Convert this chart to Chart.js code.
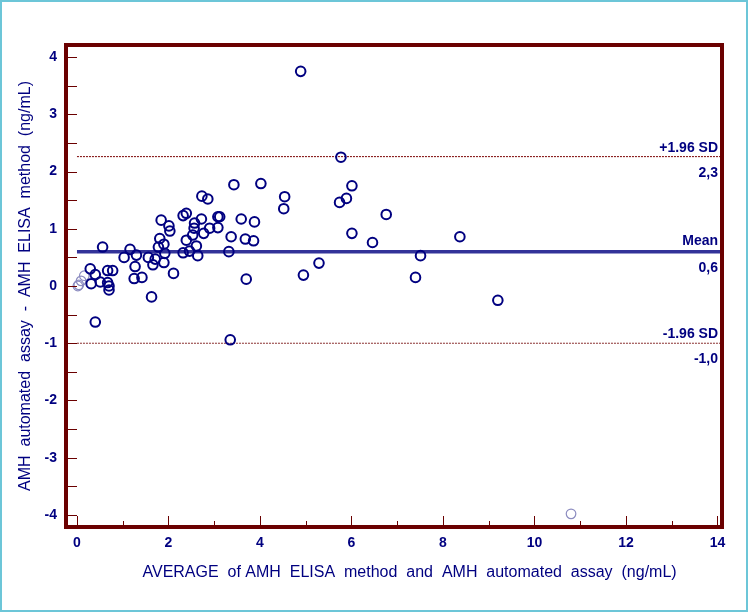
<!DOCTYPE html>
<html>
<head>
<meta charset="utf-8">
<script src="https://cdn.jsdelivr.net/npm/chart.js@4.4.1/dist/chart.umd.min.js"></script>
<style>
html, body { margin: 0; padding: 0; background: #fff; }
</style>
</head>
<body>
<canvas id="myChart" width="748" height="612"></canvas>
<script>
// averages (x) and differences (y)
const avgValues = [
  0.56, 0.29, 0.40, 0.31, 0.51, 0.67, 0.78, 0.67, 0.70, 0.70, 0.40,
  1.16, 1.03, 1.30, 1.27, 1.25, 1.42, 1.56, 1.66, 1.71, 1.63, 1.81, 1.78,
  1.90, 1.90, 1.92, 1.84, 2.01, 2.03, 2.11, 2.32, 2.39, 2.72, 2.57, 2.56,
  2.90, 2.77, 2.53, 2.39, 2.32, 2.46, 2.61, 2.64, 2.73, 2.86, 3.08, 3.12,
  3.08, 3.32, 3.37, 3.43, 3.59, 3.68, 3.86, 3.88, 3.70, 3.35, 4.02, 4.54,
  4.52, 4.89, 4.95, 5.29, 5.74, 5.77, 5.89, 6.01, 6.01, 6.46, 6.76, 7.40,
  7.51, 8.37, 9.20
];
const diffValues = [
  0.68, 0.30, 0.20, 0.04, 0.07, 0.27, 0.27, 0.06, 0.00, -0.07, -0.63,
  0.64, 0.50, 0.54, 0.34, 0.13, 0.15, 0.50, 0.37, 0.47, -0.19, 0.83, 0.68,
  0.73, 0.41, 0.57, 1.15, 1.05, 0.96, 0.22, 1.23, 1.27, 1.17, 1.10, 1.01,
  1.01, 0.92, 0.89, 0.80, 0.58, 0.61, 0.70, 0.53, 1.57, 1.52, 1.21, 1.21,
  1.02, 0.60, 0.86, 1.77, 1.17, 0.82, 0.79, 1.12, 0.12, -0.94, 1.79, 1.56,
  1.35, 3.75, 0.19, 0.40, 1.46, 2.25, 1.53, 1.75, 0.92, 0.76, 1.25, 0.15,
  0.53, 0.86, -0.25
];
// faint markers
const faintAvg = [0.02, 0.04, 0.09, 0.16, 10.80];
const faintDiff = [0.00, 0.02, 0.09, 0.18, -3.98];

const meanDiff = 0.6;
const upperLimit = 2.26;
const lowerLimit = -1.0;
const limitNames = ['+1.96 SD', 'Mean', '-1.96 SD'];
const limitTexts = ['2,3', '0,6', '-1,0'];

const xTicks = [0, 2, 4, 6, 8, 10, 12, 14];
const yTicks = [-4, -3, -2, -1, 0, 1, 2, 3, 4];
const xMin = -0.24, xMax = 14.1;
const yMin = -4.21, yMax = 4.21;

const navy = '#000080';
const frameRed = '#6b0000';
const fontFamily = '"Liberation Sans", Arial, sans-serif';

const toPoints = (xs, ys) => xs.map((v, i) => ({ x: v, y: ys[i] }));
const hLine = v => [{ x: 0, y: v }, { x: xMax, y: v }];

const decor = {
  id: 'decor',
  beforeDraw(chart) {
    const ctx = chart.ctx;
    ctx.save();
    ctx.fillStyle = '#fff';
    ctx.fillRect(0, 0, chart.width, chart.height);
    ctx.strokeStyle = '#6cc6d8';
    ctx.lineWidth = 2;
    ctx.strokeRect(1, 1, chart.width - 2, chart.height - 2);
    ctx.restore();
  },
  afterDatasetsDraw(chart) {
    const { ctx, chartArea: a, scales: { x, y } } = chart;
    ctx.save();
    ctx.strokeStyle = frameRed;
    ctx.lineWidth = 1;
    for (let v = -4; v <= 4; v += 0.5) {
      const py = Math.round(y.getPixelForValue(v)) + 0.5;
      ctx.beginPath();
      ctx.moveTo(a.left, py);
      ctx.lineTo(a.left + 11, py);
      ctx.stroke();
    }
    for (let v = 0; v <= 14; v++) {
      const px = Math.round(x.getPixelForValue(v)) + 0.5;
      ctx.beginPath();
      ctx.moveTo(px, a.bottom);
      ctx.lineTo(px, a.bottom - (v % 2 ? 6 : 11));
      ctx.stroke();
    }
    ctx.lineWidth = 4;
    ctx.strokeRect(a.left, a.top, a.right - a.left, a.bottom - a.top);

    ctx.fillStyle = navy;
    ctx.font = 'bold 14px ' + fontFamily;
    ctx.textAlign = 'right';
    ctx.textBaseline = 'alphabetic';
    [upperLimit, meanDiff, lowerLimit].forEach((v, i) => {
      const py = y.getPixelForValue(v);
      ctx.fillText(limitNames[i], a.right - 4, py - (i === 1 ? 7 : 5));
      ctx.fillText(limitTexts[i], a.right - 4, py + 20);
    });
    ctx.restore();
  }
};

new Chart(document.getElementById('myChart'), {
  type: 'scatter',
  data: {
    datasets: [
      {
        data: toPoints(avgValues, diffValues),
        borderColor: navy,
        backgroundColor: 'rgba(0,0,0,0)',
        borderWidth: 2,
        pointRadius: 4.8
      },
      {
        data: toPoints(faintAvg, faintDiff),
        borderColor: '#8c8cc0',
        backgroundColor: 'rgba(0,0,0,0)',
        borderWidth: 1.2,
        pointRadius: 4.8
      },
      {
        type: 'line',
        data: hLine(meanDiff),
        borderColor: '#333399',
        borderWidth: 3.5,
        pointRadius: 0
      },
      {
        type: 'line',
        data: hLine(upperLimit),
        borderColor: '#7a0000',
        borderWidth: 1,
        borderDash: [2, 1],
        pointRadius: 0
      },
      {
        type: 'line',
        data: hLine(lowerLimit),
        borderColor: '#8a3030',
        borderWidth: 1,
        borderDash: [2, 1],
        pointRadius: 0
      }
    ]
  },
  options: {
    responsive: false,
    animation: false,
    layout: { padding: { top: 45, right: 26, left: 0, bottom: 0 } },
    plugins: { legend: { display: false }, tooltip: { enabled: false } },
    scales: {
      x: {
        type: 'linear',
        min: xMin,
        max: xMax,
        grid: { display: false, drawTicks: false },
        border: { display: false },
        afterBuildTicks: s => { s.ticks = xTicks.map(v => ({ value: v })); },
        afterFit: s => { s.height = 85; },
        ticks: {
          color: navy,
          padding: 8,
          maxRotation: 0,
          font: { family: fontFamily, size: 14, weight: 'bold' }
        },
        title: {
          display: true,
          // leading spaces nudge the centred title right, as in the original
          text: '       AVERAGE  of AMH  ELISA  method  and  AMH  automated  assay  (ng/mL)',
          color: navy,
          padding: { bottom: 30 },
          font: { family: fontFamily, size: 16 }
        }
      },
      y: {
        type: 'linear',
        min: yMin,
        max: yMax,
        grid: { display: false, drawTicks: false },
        border: { display: false },
        afterBuildTicks: s => { s.ticks = yTicks.map(v => ({ value: v })); },
        afterFit: s => { s.width = 66; },
        ticks: {
          color: navy,
          padding: 9,
          font: { family: fontFamily, size: 14, weight: 'bold' }
        },
        title: {
          display: true,
          text: 'AMH  automated  assay  -  AMH  ELISA  method  (ng/mL)',
          color: navy,
          padding: { top: 16 },
          font: { family: fontFamily, size: 16 }
        }
      }
    }
  },
  plugins: [decor]
});
</script>
</body>
</html>
